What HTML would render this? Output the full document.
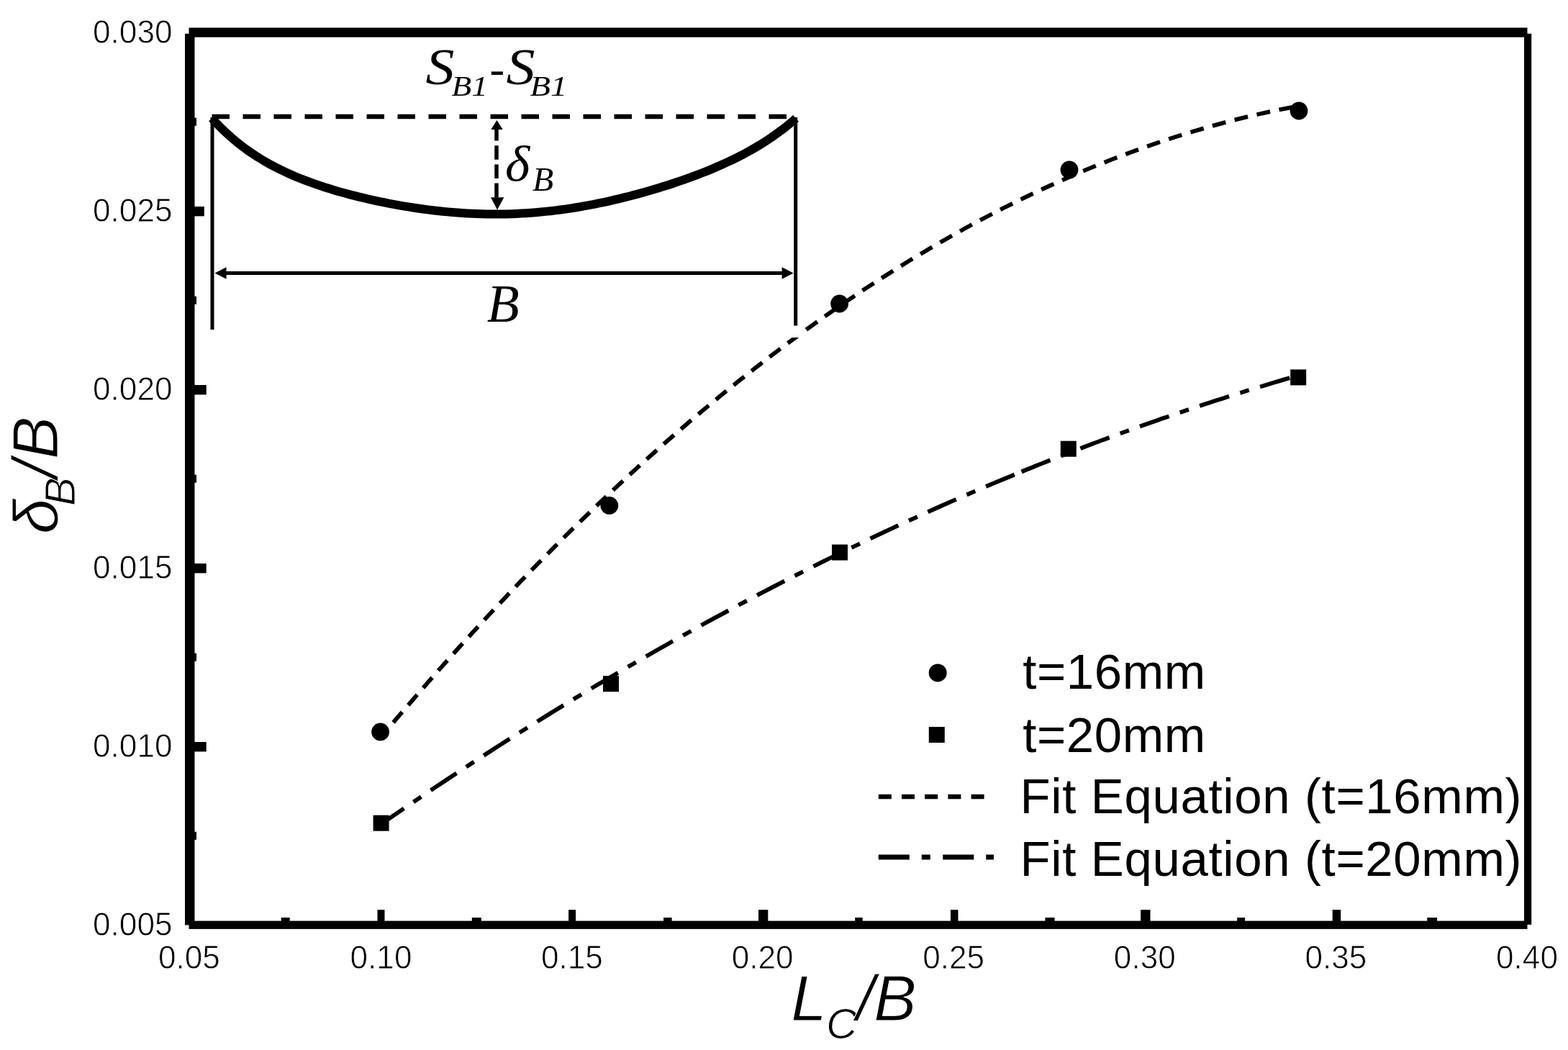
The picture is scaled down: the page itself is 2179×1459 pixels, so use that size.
<!DOCTYPE html>
<html><head><meta charset="utf-8"><title>Chart</title>
<style>html,body{margin:0;padding:0;background:#fff}svg{display:block}</style>
</head><body>
<svg width="2179" height="1459" viewBox="0 0 2179 1459" fill="#000">
<rect x="0" y="0" width="2179" height="1459" fill="#fff"/>
<path d="M529,1024.8 L550.6,999.2 L572.3,974 L593.9,949.1 L615.5,924.6 L637.1,900.5 L658.8,876.8 L680.4,853.4 L702,830.4 L723.6,807.7 L745.3,785.5 L766.9,763.6 L788.5,742 L810.2,720.9 L831.8,700.1 L853.4,679.7 L875,659.6 L896.7,639.9 L918.3,620.6 L939.9,601.7 L961.5,583.1 L983.2,564.9 L1004.8,547.1 L1026.4,529.6 L1048.1,512.5 L1069.7,495.8 L1091.3,479.4 L1112.9,463.5 L1134.6,447.8 L1156.2,432.6 L1177.8,417.7 L1199.4,403.2 L1221.1,389.1 L1242.7,375.3 L1264.3,361.9 L1285.9,348.9 L1307.6,336.2 L1329.2,323.9 L1350.8,312 L1372.5,300.5 L1394.1,289.3 L1415.7,278.5 L1437.3,268 L1459,258 L1480.6,248.3 L1502.2,238.9 L1523.8,230 L1545.5,221.4 L1567.1,213.2 L1588.7,205.3 L1610.4,197.8 L1632,190.7 L1653.6,184 L1675.2,177.6 L1696.9,171.6 L1718.5,165.9 L1740.1,160.7 L1761.7,155.8 L1783.4,151.3 L1805,147.1" fill="none" stroke="#000" stroke-width="5.8" stroke-dasharray="19 12.75" stroke-dashoffset="4.4"/>
<path d="M529.6,1145.2 L544.5,1134.9 L559.5,1124.7 L574.4,1114.5 L589.3,1104.4 L604.2,1094.4 L619.2,1084.5 L634.1,1074.6 L649,1064.8 L663.9,1055.1 L678.9,1045.5 L693.8,1035.9 L708.7,1026.4 L723.7,1016.9 L738.6,1007.6 L753.5,998.3 L768.4,989 L783.4,979.9 L798.3,970.8 L813.2,961.8 L828.1,952.8 L843.1,944 L858,935.2 L872.9,926.4 L887.9,917.8 L902.8,909.2 L917.7,900.7 L932.6,892.2 L947.6,883.9 L962.5,875.5 L977.4,867.3 L992.3,859.1 L1007.3,851.1 L1022.2,843 L1037.1,835.1 L1052,827.2 L1067,819.4 L1081.9,811.6 L1096.8,804 L1111.8,796.4 L1126.7,788.9 L1141.6,781.4 L1156.5,774 L1171.5,766.7 L1186.4,759.5 L1201.3,752.3 L1216.2,745.2 L1231.2,738.1 L1246.1,731.2 L1261,724.3 L1276,717.5 L1290.9,710.7 L1305.8,704 L1320.7,697.4 L1335.7,690.9 L1350.6,684.4 L1365.5,678 L1380.4,671.7 L1395.4,665.5 L1410.3,659.3" fill="none" stroke="#000" stroke-width="5.8" stroke-dasharray="43 16 13 16.07" stroke-dashoffset="4.5"/>
<path d="M1419.6,655.5 L1426.1,652.8 L1432.6,650.2 L1439.1,647.5 L1445.7,644.9 L1452.2,642.3 L1458.7,639.7 L1465.2,637.2 L1471.7,634.6 L1478.2,632 L1484.8,629.5 L1491.3,627 L1497.8,624.5 L1504.3,622 L1510.8,619.5 L1517.3,617 L1523.8,614.6 L1530.4,612.1 L1536.9,609.7 L1543.4,607.3 L1549.9,604.9 L1556.4,602.5 L1562.9,600.1 L1569.5,597.8 L1576,595.4 L1582.5,593.1 L1589,590.8 L1595.5,588.5 L1602,586.2 L1608.5,583.9 L1615.1,581.6 L1621.6,579.4 L1628.1,577.1 L1634.6,574.9 L1641.1,572.7 L1647.6,570.5 L1654.1,568.3 L1660.7,566.1 L1667.2,564 L1673.7,561.8 L1680.2,559.7 L1686.7,557.6 L1693.2,555.5 L1699.8,553.4 L1706.3,551.3 L1712.8,549.3 L1719.3,547.2 L1725.8,545.2 L1732.3,543.1 L1738.8,541.1 L1745.4,539.1 L1751.9,537.2 L1758.4,535.2 L1764.9,533.2 L1771.4,531.3 L1777.9,529.4 L1784.5,527.4 L1791,525.5 L1797.5,523.7 L1804,521.8" fill="none" stroke="#000" stroke-width="5.8" stroke-dasharray="43 16 13 16"/>
<circle cx="528.6" cy="1016.9" r="12.4"/>
<circle cx="846.8" cy="702.4" r="12.4"/>
<circle cx="1166.6" cy="422" r="12.4"/>
<circle cx="1486" cy="236" r="12.4"/>
<circle cx="1805" cy="154" r="12.4"/>
<rect x="518.6" y="1132.7" width="22" height="22"/>
<rect x="838" y="939.2" width="22" height="22"/>
<rect x="1156" y="756.6" width="22" height="22"/>
<rect x="1473.8" y="612.7" width="22" height="22"/>
<rect x="1793.2" y="513.4" width="22" height="22"/>
<rect x="283.8" y="60" width="828.2" height="409" fill="#fff"/>
<path d="M294.5,162 H1106" fill="none" stroke="#000" stroke-width="6.5" stroke-dasharray="24.5 18.5"/>
<path d="M295,163 V458 M1105.7,163 V452.6" fill="none" stroke="#000" stroke-width="5"/>
<path d="M294.5,164.3 L301.3,171.7 L308.1,178.6 L315,185.1 L321.8,191.2 L328.6,197 L335.4,202.4 L342.2,207.5 L349.1,212.3 L355.9,216.8 L362.7,221 L369.5,225.1 L376.3,228.9 L383.2,232.5 L390,235.9 L396.8,239.1 L403.6,242.2 L410.4,245.2 L417.3,248 L424.1,250.6 L430.9,253.2 L437.7,255.6 L444.5,257.9 L451.4,260.2 L458.2,262.3 L465,264.4 L471.8,266.4 L478.6,268.3 L485.5,270.1 L492.3,271.9 L499.1,273.6 L505.9,275.2 L512.7,276.8 L519.6,278.3 L526.4,279.8 L533.2,281.2 L540,282.6 L546.8,283.8 L553.7,285.1 L560.5,286.3 L567.3,287.4 L574.1,288.5 L580.9,289.5 L587.8,290.5 L594.6,291.4 L601.4,292.2 L608.2,293 L615,293.7 L621.9,294.4 L628.7,295 L635.5,295.5 L642.3,296 L649.1,296.4 L656,296.8 L662.8,297.1 L669.6,297.3 L676.4,297.5 L683.2,297.5 L690.1,297.6 L696.9,297.5 L703.7,297.4 L710.5,297.2 L717.4,296.9 L724.2,296.6 L731,296.2 L737.8,295.7 L744.6,295.2 L751.5,294.6 L758.3,293.9 L765.1,293.2 L771.9,292.4 L778.7,291.5 L785.6,290.6 L792.4,289.6 L799.2,288.5 L806,287.3 L812.8,286.1 L819.7,284.9 L826.5,283.6 L833.3,282.2 L840.1,280.8 L846.9,279.3 L853.8,277.7 L860.6,276.1 L867.4,274.4 L874.2,272.7 L881,270.9 L887.9,269.1 L894.7,267.2 L901.5,265.3 L908.3,263.3 L915.1,261.2 L922,259.1 L928.8,257 L935.6,254.7 L942.4,252.4 L949.2,250.1 L956.1,247.7 L962.9,245.2 L969.7,242.6 L976.5,240 L983.3,237.3 L990.2,234.5 L997,231.5 L1003.8,228.5 L1010.6,225.4 L1017.4,222.2 L1024.3,218.9 L1031.1,215.4 L1037.9,211.7 L1044.7,208 L1051.5,204 L1058.4,199.9 L1065.2,195.5 L1072,191 L1078.8,186.2 L1085.6,181.2 L1092.5,175.9 L1099.3,170.3 L1106.1,164.5" fill="none" stroke="#000" stroke-width="12" stroke-linejoin="round"/>
<path d="M310,379.5 H1090" fill="none" stroke="#000" stroke-width="5.2"/>
<path d="M298.5,379.5 L314.5,371.3 V387.7 Z M1102.6,379.5 L1086.6,371.3 V387.7 Z"/>
<path d="M690,176 V280" fill="none" stroke="#000" stroke-width="5.5" stroke-dasharray="19.6 6.6"/>
<path d="M690.5,167 L682.3,180 H698.7 Z M691,291.5 L682,274.3 H700.4 Z"/>
<rect x="262.5" y="38.5" width="1860" height="13.2"/>
<rect x="262.5" y="1279.6" width="1860" height="11.3"/>
<rect x="257" y="46.8" width="13.5" height="1238.6"/>
<rect x="2118" y="46.8" width="10.2" height="1238"/>
<rect x="524.5" y="1264.2" width="10" height="17"/>
<rect x="790.1" y="1264.2" width="10" height="17"/>
<rect x="1054" y="1264.2" width="13.3" height="17"/>
<rect x="1321" y="1264.2" width="10.5" height="17"/>
<rect x="1585.2" y="1264.2" width="13.3" height="17"/>
<rect x="1851.7" y="1264.2" width="11.5" height="17"/>
<rect x="390.7" y="1275" width="12" height="6"/>
<rect x="655.8" y="1275" width="13" height="6"/>
<rect x="922.1" y="1275" width="11.5" height="6"/>
<rect x="1188.2" y="1275" width="10.5" height="6"/>
<rect x="1452.4" y="1275" width="13.2" height="6"/>
<rect x="1719.2" y="1275" width="10.9" height="6"/>
<rect x="1983.3" y="1275" width="13.8" height="6"/>
<rect x="269" y="287" width="14.8" height="13.4"/>
<rect x="269" y="535" width="17.7" height="13.4"/>
<rect x="269" y="783" width="17.7" height="13.4"/>
<rect x="269" y="1031" width="17.7" height="13.4"/>
<rect x="269" y="163.7" width="4" height="11"/>
<rect x="269" y="411.8" width="4" height="11"/>
<rect x="269" y="659.7" width="4" height="11"/>
<rect x="269" y="907.7" width="4" height="11"/>
<rect x="269" y="1155.8" width="4" height="11"/>
<text transform="translate(239.5,60) scale(0.96,1)" text-anchor="end" style="font-family:'Liberation Sans',Arial,sans-serif;font-size:46px;stroke:#fff;stroke-width:0.8px">0.030</text>
<text transform="translate(239.5,308.1) scale(0.96,1)" text-anchor="end" style="font-family:'Liberation Sans',Arial,sans-serif;font-size:46px;stroke:#fff;stroke-width:0.8px">0.025</text>
<text transform="translate(239.5,556.1) scale(0.96,1)" text-anchor="end" style="font-family:'Liberation Sans',Arial,sans-serif;font-size:46px;stroke:#fff;stroke-width:0.8px">0.020</text>
<text transform="translate(239.5,804) scale(0.96,1)" text-anchor="end" style="font-family:'Liberation Sans',Arial,sans-serif;font-size:46px;stroke:#fff;stroke-width:0.8px">0.015</text>
<text transform="translate(239.5,1052) scale(0.96,1)" text-anchor="end" style="font-family:'Liberation Sans',Arial,sans-serif;font-size:46px;stroke:#fff;stroke-width:0.8px">0.010</text>
<text transform="translate(239.5,1300) scale(0.96,1)" text-anchor="end" style="font-family:'Liberation Sans',Arial,sans-serif;font-size:46px;stroke:#fff;stroke-width:0.8px">0.005</text>
<text transform="translate(262.9,1345.6) scale(0.96,1)" text-anchor="middle" style="font-family:'Liberation Sans',Arial,sans-serif;font-size:46px;stroke:#fff;stroke-width:0.8px">0.05</text>
<text transform="translate(529.5,1345.6) scale(0.96,1)" text-anchor="middle" style="font-family:'Liberation Sans',Arial,sans-serif;font-size:46px;stroke:#fff;stroke-width:0.8px">0.10</text>
<text transform="translate(794.9,1345.6) scale(0.96,1)" text-anchor="middle" style="font-family:'Liberation Sans',Arial,sans-serif;font-size:46px;stroke:#fff;stroke-width:0.8px">0.15</text>
<text transform="translate(1059.7,1345.6) scale(0.96,1)" text-anchor="middle" style="font-family:'Liberation Sans',Arial,sans-serif;font-size:46px;stroke:#fff;stroke-width:0.8px">0.20</text>
<text transform="translate(1325.2,1345.6) scale(0.96,1)" text-anchor="middle" style="font-family:'Liberation Sans',Arial,sans-serif;font-size:46px;stroke:#fff;stroke-width:0.8px">0.25</text>
<text transform="translate(1590.8,1345.6) scale(0.96,1)" text-anchor="middle" style="font-family:'Liberation Sans',Arial,sans-serif;font-size:46px;stroke:#fff;stroke-width:0.8px">0.30</text>
<text transform="translate(1856.4,1345.6) scale(0.96,1)" text-anchor="middle" style="font-family:'Liberation Sans',Arial,sans-serif;font-size:46px;stroke:#fff;stroke-width:0.8px">0.35</text>
<text transform="translate(2122,1345.6) scale(0.96,1)" text-anchor="middle" style="font-family:'Liberation Sans',Arial,sans-serif;font-size:46px;stroke:#fff;stroke-width:0.8px">0.40</text>
<circle cx="1303.2" cy="934.9" r="12.5"/>
<rect x="1290.8" y="1010" width="22" height="22"/>
<path d="M1220.8,1107 H1368" fill="none" stroke="#000" stroke-width="6.6" stroke-dasharray="18 14.2"/>
<path d="M1220.8,1191 H1381" fill="none" stroke="#000" stroke-width="7" stroke-dasharray="43 17 12 17.5"/>
<text x="1421.2" y="957.3" textLength="254" lengthAdjust="spacing" style="font-family:'Liberation Sans',Arial,sans-serif;font-size:69px">t=16mm</text>
<text x="1421.2" y="1044.8" textLength="254" lengthAdjust="spacing" style="font-family:'Liberation Sans',Arial,sans-serif;font-size:69px">t=20mm</text>
<text x="1417.5" y="1129.7" textLength="697" lengthAdjust="spacing" style="font-family:'Liberation Sans',Arial,sans-serif;font-size:69px">Fit Equation (t=16mm)</text>
<text x="1417.5" y="1217.2" textLength="697" lengthAdjust="spacing" style="font-family:'Liberation Sans',Arial,sans-serif;font-size:69px">Fit Equation (t=20mm)</text>
<text transform="translate(591.5,117) scale(1.11,1)" style="font-family:'Liberation Serif','Times New Roman',serif;font-style:italic;font-size:72px">S</text>
<text transform="translate(627.5,133) scale(1.12,1)" style="font-family:'Liberation Serif','Times New Roman',serif;font-style:italic;font-size:40.5px">B1</text>
<text transform="translate(680.6,115.9) scale(1.0,1)" style="font-family:'Liberation Serif','Times New Roman',serif;font-style:italic;font-size:62px">-</text>
<text transform="translate(703.5,117) scale(1.11,1)" style="font-family:'Liberation Serif','Times New Roman',serif;font-style:italic;font-size:72px">S</text>
<text transform="translate(736.5,133) scale(1.15,1)" style="font-family:'Liberation Serif','Times New Roman',serif;font-style:italic;font-size:40.5px">B1</text>
<text transform="translate(702,251) scale(1.05,1)" style="font-family:'Liberation Serif','Times New Roman',serif;font-style:italic;font-size:70px">δ</text>
<text transform="translate(740,264.5) scale(1.05,1)" style="font-family:'Liberation Serif','Times New Roman',serif;font-style:italic;font-size:45.5px">B</text>
<text transform="translate(676.8,447) scale(1.0,1)" style="font-family:'Liberation Serif','Times New Roman',serif;font-style:italic;font-size:73.5px">B</text>
<text x="1099.3" y="1418.4" style="font-family:'Liberation Sans',Arial,sans-serif;font-style:italic;stroke:#fff;stroke-width:1px;font-size:89px">L</text>
<text x="1147.9" y="1442.5" style="font-family:'Liberation Sans',Arial,sans-serif;font-style:italic;stroke:#fff;stroke-width:1px;font-size:60px">C</text>
<text x="1190.3" y="1418.4" style="font-family:'Liberation Sans',Arial,sans-serif;font-style:italic;stroke:#fff;stroke-width:1px;font-size:89px">/</text>
<text x="1214.3" y="1418.4" style="font-family:'Liberation Sans',Arial,sans-serif;font-style:italic;stroke:#fff;stroke-width:1px;font-size:89px">B</text>
<g transform="translate(80,742) rotate(-90)"><text x="0" y="0" style="font-family:'Liberation Sans',Arial,sans-serif;font-style:italic;stroke:#fff;stroke-width:1px;font-size:88px">δ</text><text x="39" y="24" style="font-family:'Liberation Sans',Arial,sans-serif;font-style:italic;stroke:#fff;stroke-width:1px;font-size:60px">B</text><text x="78" y="0" style="font-family:'Liberation Sans',Arial,sans-serif;font-style:italic;stroke:#fff;stroke-width:1px;font-size:89px">/</text><text x="104" y="-0.5" style="font-family:'Liberation Sans',Arial,sans-serif;font-style:italic;stroke:#fff;stroke-width:1px;font-size:89px">B</text></g>
</svg>
</body></html>
